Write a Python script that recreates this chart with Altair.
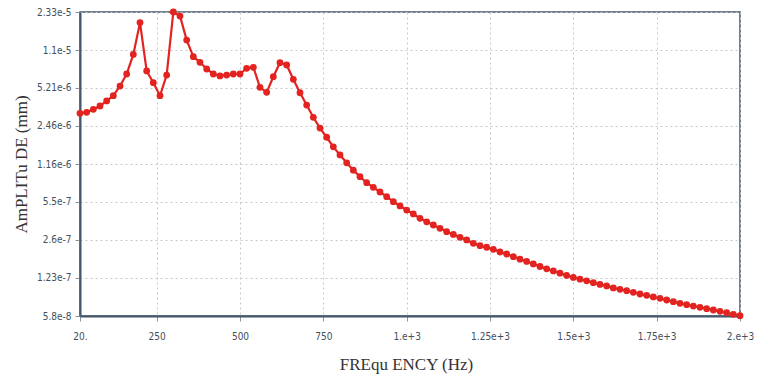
import altair as alt
import pandas as pd

# Frequencies (Hz), every 20 Hz from 20 to 2000
freq = list(range(20, 2001, 20))

# Amplitude (mm)
amp = [
    3.16e-6, 3.22e-6, 3.42e-6, 3.65e-6, 4.03e-6, 4.47e-6, 5.41e-6, 6.86e-6, 1.01e-5, 1.89e-5,
    7.28e-6, 5.78e-6, 4.47e-6, 6.72e-6, 2.33e-5, 2.15e-5, 1.34e-5, 9.65e-6, 8.64e-6, 7.57e-6,
    6.86e-6, 6.60e-6, 6.72e-6, 6.86e-6, 6.86e-6, 7.68e-6, 7.83e-6, 5.28e-6, 4.78e-6, 6.50e-6,
    8.57e-6, 8.19e-6, 6.18e-6, 4.74e-6, 3.72e-6, 2.92e-6, 2.36e-6, 1.97e-6, 1.63e-6, 1.39e-6,
    1.19e-6, 1.03e-6, 9.05e-7, 8.04e-7, 7.34e-7, 6.69e-7, 6.10e-7, 5.53e-7, 5.08e-7, 4.69e-7,
    4.34e-7, 3.98e-7, 3.72e-7, 3.49e-7, 3.27e-7, 3.06e-7, 2.90e-7, 2.74e-7, 2.60e-7, 2.43e-7,
    2.32e-7, 2.25e-7, 2.16e-7, 2.05e-7, 1.97e-7, 1.87e-7, 1.78e-7, 1.70e-7, 1.62e-7, 1.54e-7,
    1.47e-7, 1.41e-7, 1.35e-7, 1.29e-7, 1.24e-7, 1.20e-7, 1.16e-7, 1.12e-7, 1.08e-7, 1.05e-7,
    1.01e-7, 9.82e-8, 9.55e-8, 9.25e-8, 8.95e-8, 8.72e-8, 8.44e-8, 8.22e-8, 7.95e-8, 7.69e-8,
    7.45e-8, 7.25e-8, 7.06e-8, 6.88e-8, 6.70e-8, 6.53e-8, 6.36e-8, 6.19e-8, 6.00e-8, 5.83e-8,
]

x_ticks = [20, 250, 500, 750, 1000, 1250, 1500, 1750, 2000]
x_labels = ["20.", "250", "500", "750", "1.e+3", "1.25e+3", "1.5e+3", "1.75e+3", "2.e+3"]

y_ticks = [5.8e-8, 1.23e-7, 2.6e-7, 5.5e-7, 1.16e-6, 2.46e-6, 5.21e-6, 1.1e-5, 2.33e-5]

df = pd.DataFrame({"freq": freq, "amp": amp})

x_expr = " : ".join(f"datum.value == {v} ? '{l}'" for v, l in zip(x_ticks, x_labels)) + " : ''"

label_color = "#42505c"
frame_color = "#44566a"

chart = (
    alt.Chart(df)
    .mark_line(
        color="#e2231f",
        strokeWidth=2.2,
        point=alt.OverlayMarkDef(filled=True, size=46, color="#e2231f", opacity=1),
    )
    .encode(
        x=alt.X(
            "freq:Q",
            scale=alt.Scale(domain=[20, 2000], nice=False, zero=False),
            axis=alt.Axis(
                values=x_ticks,
                labelExpr=x_expr,
                title="FREqu ENCY (Hz)",
                titleY=40,
                titleX=326,
            ),
        ),
        y=alt.Y(
            "amp:Q",
            scale=alt.Scale(type="log", domain=[5.8e-8, 2.33e-5], nice=False),
            axis=alt.Axis(
                values=y_ticks,
                format=".2~e",
                title="AmPLITu DE (mm)",
                titleX=-50,
                titleY=152,
            ),
        ),
    )
    .properties(
        width=660,
        height=304,
        autosize=alt.AutoSizeParams(type="none"),
        padding={"left": 80, "top": 12, "right": 25, "bottom": 60},
        background="white",
    )
    .configure_view(stroke=frame_color, strokeWidth=1.5)
    .configure_axis(
        domainColor=frame_color,
        domainWidth=2,
        gridColor="#c4c8cc",
        gridDash=[2, 3],
        gridWidth=1,
        tickColor="#8a949c",
        tickSize=5,
        labelFont="DejaVu Sans Condensed",
        labelFontSize=10,
        labelColor=label_color,
        labelPadding=4,
        titleFont="Liberation Serif",
        titleFontSize=17,
        titleFontWeight="normal",
        titleColor="#333333",
    )
    .configure_axisX(labelPadding=10, labelAlign="center")
)

chart.save("out.html", embed_options={"renderer": "svg", "actions": False})
